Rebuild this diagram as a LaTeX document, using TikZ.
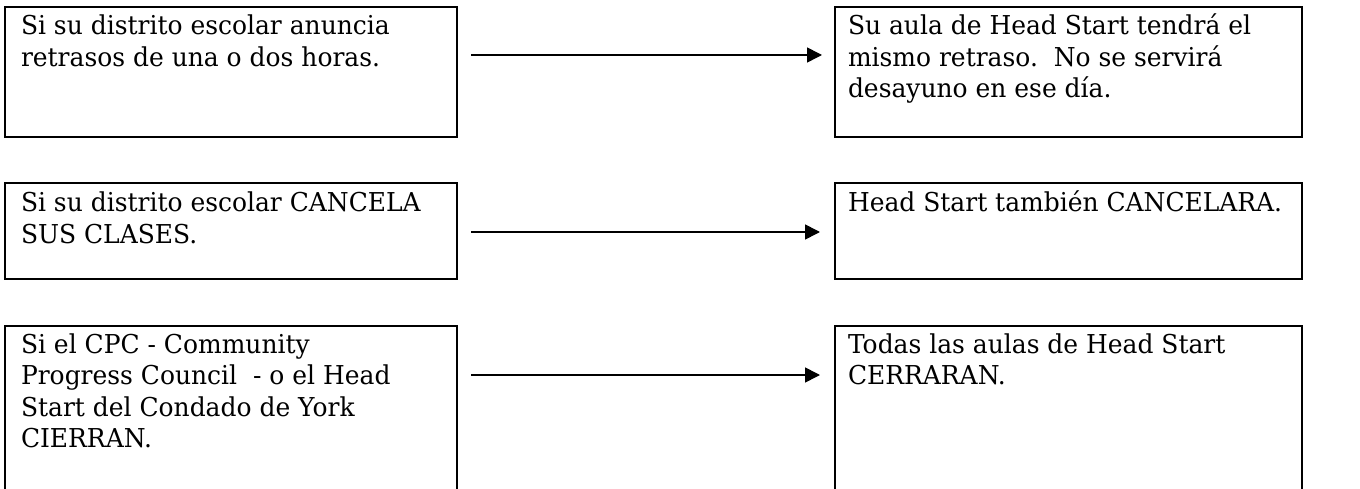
\documentclass[tikz,border=0pt]{standalone}
\usepackage{fontspec}
\setmainfont[FakeStretch=0.96]{DejaVu Serif}
\usetikzlibrary{arrows.meta}
\begin{document}
\begin{tikzpicture}[x=1pt,y=-1pt,
  box/.style={draw=black, line width=2pt, rectangle, inner sep=0pt, outer sep=0pt},
  txt/.style={anchor=base west, inner sep=0pt, outer sep=0pt, font=\fontsize{26}{31.5}\selectfont},
  arr/.style={line width=1.6pt, -{Triangle[length=15pt,width=15pt]}}]
\useasboundingbox[fill=white] (0,0) rectangle (1360,489);
% boxes
\node[box, minimum width=452, minimum height=130] (b1l) at (231,72) {};
\node[box, minimum width=467, minimum height=130] (b1r) at (1068.5,72) {};
\node[box, minimum width=452, minimum height=96] (b2l) at (231,231) {};
\node[box, minimum width=467, minimum height=96] (b2r) at (1068.5,231) {};
\node[box, minimum width=452, minimum height=180] (b3l) at (231,416) {};
\node[box, minimum width=467, minimum height=180] (b3r) at (1068.5,416) {};
% texts
\node[txt] (t1l) at (21,35) {\parbox[t]{430pt}{\raggedright Si su distrito escolar anuncia\\retrasos de una o dos horas.}};
\node[txt] (t1r) at (848,35) {\parbox[t]{450pt}{\raggedright Su aula de Head Start tendrá el\\mismo retraso.\ \ No se servirá\\desayuno en ese día.}};
\node[txt] (t2l) at (21,212) {\parbox[t]{430pt}{\raggedright Si su distrito escolar CANCELA\\SUS CLASES.}};
\node[txt] (t2r) at (848,212) {\parbox[t]{450pt}{\raggedright Head Start también CANCELARA.}};
\node[txt] (t3l) at (21,353) {\parbox[t]{430pt}{\raggedright Si el CPC - Community\\Progress Council\ \ - o el Head\\Start del Condado de York\\CIERRAN.}};
\node[txt] (t3r) at (848,353) {\parbox[t]{450pt}{\raggedright Todas las aulas de Head Start\\CERRARAN.}};
% arrows
\coordinate (a1s) at (471,55);  \coordinate (a1e) at (822,55);
\coordinate (a2s) at (471,232); \coordinate (a2e) at (820,232);
\coordinate (a3s) at (471,375); \coordinate (a3e) at (820,375);
\draw[arr] (a1s) -- (a1e);
\draw[arr] (a2s) -- (a2e);
\draw[arr] (a3s) -- (a3e);
\end{tikzpicture}
\end{document}
